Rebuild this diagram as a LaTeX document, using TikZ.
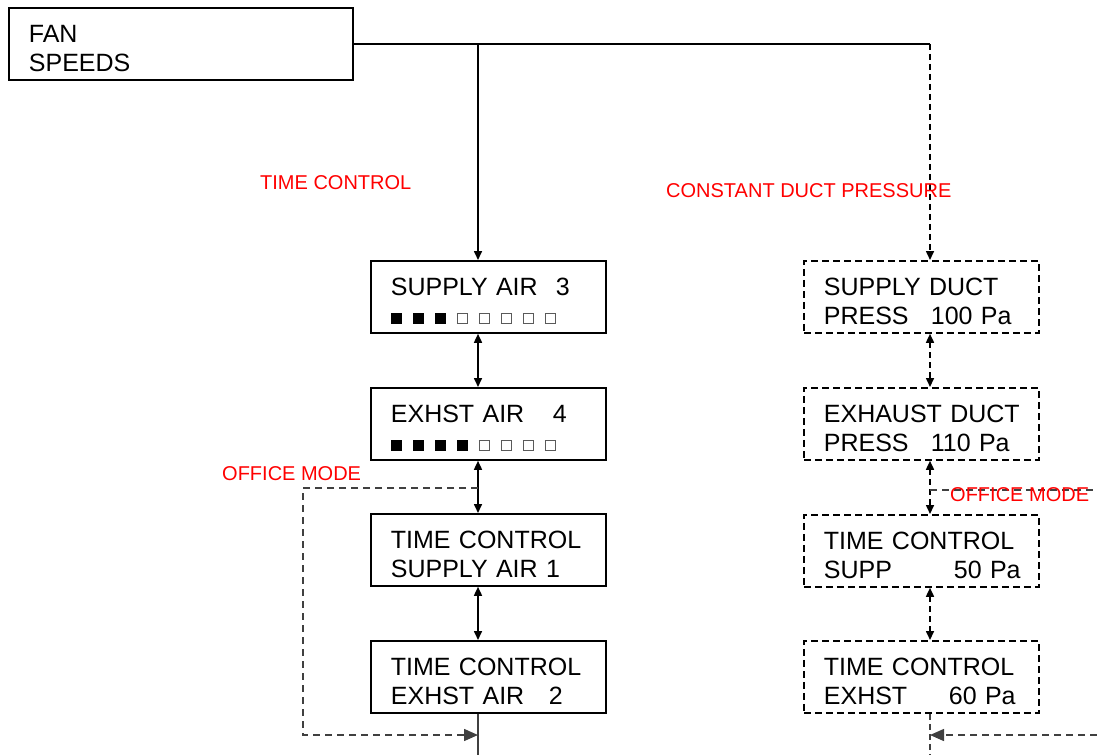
\documentclass[tikz,border=0pt]{standalone}
\usepackage{fontspec}
\setmainfont{Liberation Sans}
\usetikzlibrary{arrows.meta}
\definecolor{odgray}{HTML}{404040}
\definecolor{sqgray}{HTML}{5A5A5A}
\newcommand\fsq{\rule{11pt}{11pt}}
\newcommand\osq{{\color{sqgray}\setlength\fboxsep{0pt}\setlength\fboxrule{1pt}\raisebox{1pt}{\fbox{\rule{0pt}{9pt}\hspace{9pt}}}}}
\newcommand\gp{\hspace{11pt}}
\newcommand\tp{\rule{0pt}{26pt}}
\tikzset{
  box/.style={draw, line width=1.8pt, minimum width=235pt, minimum height=72pt,
    inner xsep=20pt, inner ysep=0pt, text width=195pt, align=left,
    anchor=north west, font=\fontsize{25}{29}\selectfont},
  fanbox/.style={box, minimum width=344pt, text width=304pt},
  dbox/.style={box, dash pattern=on 7pt off 4pt},
  conn/.style={line width=1.6pt},
  dconn/.style={line width=1.6pt, dash pattern=on 6pt off 4pt},
  odash/.style={line width=1.5pt, draw=odgray, dash pattern=on 7pt off 5pt},
  tip/.tip={Triangle[length=9pt,width=8pt]},
  bigtip/.tip={Triangle[length=14pt,width=12pt,fill=odgray,color=odgray]},
  redlbl/.style={text=red, anchor=west, inner sep=0pt, font=\fontsize{20}{24}\selectfont}
}
\begin{document}
\begin{tikzpicture}[x=1pt,y=-1pt]
\useasboundingbox (0,0) rectangle (1097,755);
\coordinate (lx) at (478,0);
\coordinate (rx) at (930,0);
% boxes
\node[fanbox] (fan) at (8,7) {\tp\mbox{FAN}\\\mbox{SPEEDS}};
\node[box] (sa) at (370,260) {\tp\mbox{\makebox[165pt][l]{SUPPLY AIR}3}\\\mbox{\fsq\gp\fsq\gp\fsq\gp\osq\gp\osq\gp\osq\gp\osq\gp\osq}};
\node[box] (ea) at (370,387) {\tp\mbox{\makebox[162pt][l]{EXHST AIR}4}\\\mbox{\fsq\gp\fsq\gp\fsq\gp\fsq\gp\osq\gp\osq\gp\osq\gp\osq}};
\node[box] (tcs) at (370,513) {\tp\mbox{TIME CONTROL}\\\mbox{SUPPLY AIR 1}};
\node[box] (tce) at (370,640) {\tp\mbox{TIME CONTROL}\\\mbox{\makebox[158pt][l]{EXHST AIR}2}};
\node[dbox] (sd) at (803,260) {\tp\mbox{SUPPLY DUCT}\\\mbox{\makebox[107pt][l]{PRESS}100 Pa}};
\node[dbox] (ed) at (803,387) {\tp\mbox{EXHAUST DUCT}\\\mbox{\makebox[107pt][l]{PRESS}110 Pa}};
\node[dbox] (tsp) at (803,514) {\tp\mbox{TIME CONTROL}\\\mbox{\makebox[130pt][l]{SUPP}50 Pa}};
\node[dbox] (tex) at (803,640) {\tp\mbox{TIME CONTROL}\\\mbox{\makebox[125pt][l]{EXHST}60 Pa}};
% free ends
\coordinate (lb) at (478,755);
\coordinate (rb) at (930,755);
\coordinate (om1) at (478,488);
\coordinate (om2) at (303,735);
\coordinate (om3) at (478,735);
\coordinate (om4) at (930,490);
\coordinate (om5) at (1097,490);
\coordinate (om6) at (1097,735);
\coordinate (om7) at (930,735);
% connectors
\draw[conn] (fan.east) -- (fan.east -| rx);
\draw[conn, -tip] (fan.east -| lx) -- (sa.north -| lx);
\draw[dconn, -tip] (fan.east -| rx) -- (sd.north -| rx);
\draw[conn, tip-tip] (sa.south -| lx) -- (ea.north -| lx);
\draw[conn, tip-tip] (ea.south -| lx) -- (tcs.north -| lx);
\draw[conn, tip-tip] (tcs.south -| lx) -- (tce.north -| lx);
\draw[conn, draw=odgray] (tce.south -| lx) -- (lb);
\draw[dconn, tip-tip] (sd.south -| rx) -- (ed.north -| rx);
\draw[dconn, tip-tip] (ed.south -| rx) -- (tsp.north -| rx);
\draw[dconn, tip-tip] (tsp.south -| rx) -- (tex.north -| rx);
\draw[dconn, draw=odgray] (tex.south -| rx) -- (rb);
% office mode lines
\draw[odash, -bigtip] (om1) -| (om2) -- (om3);
\draw[odash] (om4) -- (om5);
\draw[odash, -bigtip] (om6) -- (om7);
% labels
\node[redlbl] (l1) at (260,183) {TIME CONTROL};
\node[redlbl] (l2) at (666,191) {CONSTANT DUCT PRESSURE};
\node[redlbl] (l3) at (222,474) {OFFICE MODE};
\node[redlbl] (l4) at (950,495) {OFFICE MODE};
\end{tikzpicture}
\end{document}
